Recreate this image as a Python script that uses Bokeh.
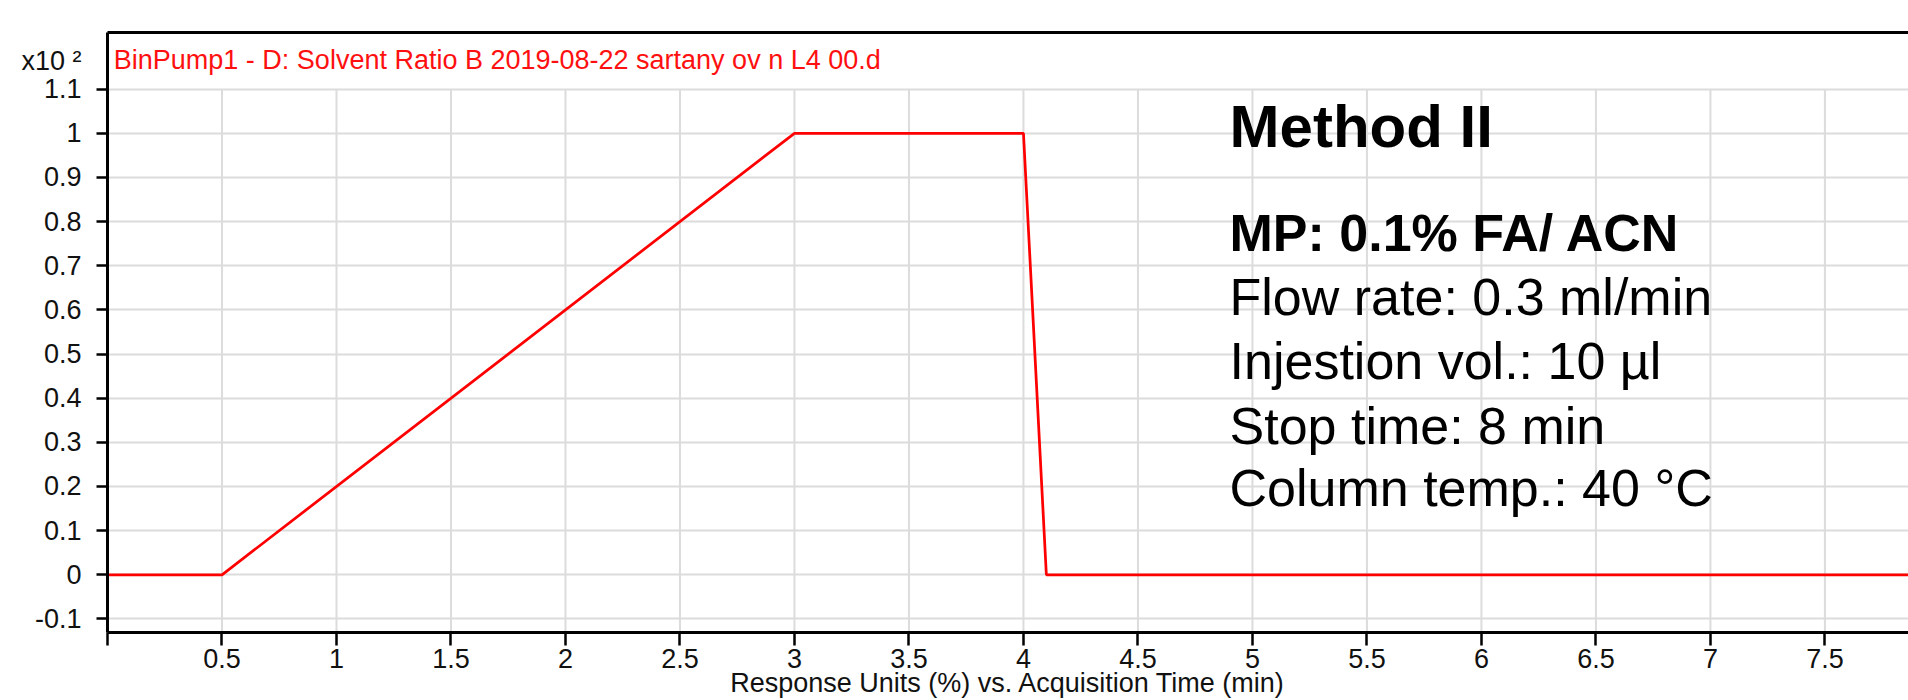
from bokeh.plotting import figure
from bokeh.models import Range1d, FixedTicker, Label, LinearAxis
from bokeh.embed import file_html
from bokeh.resources import INLINE

# ---- data (solvent B ratio, in units of x10^2 %) ----
time_min = [0.0, 0.5, 3.0, 4.0, 4.1, 8.0]
solvent_b = [0.0, 0.0, 1.0, 1.0, 0.0, 0.0]

x_ticks = [0.0, 0.5, 1.0, 1.5, 2.0, 2.5, 3.0, 3.5, 4.0, 4.5, 5.0, 5.5, 6.0, 6.5, 7.0, 7.5]
x_tick_labels = ["", "0.5", "1", "1.5", "2", "2.5", "3", "3.5", "4", "4.5", "5", "5.5", "6", "6.5", "7", "7.5"]
y_ticks = [-0.1, 0.0, 0.1, 0.2, 0.3, 0.4, 0.5, 0.6, 0.7, 0.8, 0.9, 1.0, 1.1]
y_tick_labels = ["-0.1", "0", "0.1", "0.2", "0.3", "0.4", "0.5", "0.6", "0.7", "0.8", "0.9", "1", "1.1"]

trace_title = "BinPump1 - D: Solvent Ratio B 2019-08-22  sartany ov n L4 00.d"
x_axis_title = "Response Units (%) vs. Acquisition Time (min)"
y_scale_text = "x10 \u00b2"
y_scale_pos = 1.164
method_title = "Method II"
method_bold = "MP: 0.1% FA/ ACN"
method_lines = ["Flow rate: 0.3 ml/min", "Injestion vol.: 10 \u00b5l", "Stop time: 8 min", "Column temp.: 40 \u00b0C"]

FONT = "Liberation Sans"

p = figure(width=1908, height=700,
           x_range=Range1d(0, 7.865), y_range=Range1d(-0.1307, 1.2283),
           output_backend="svg", toolbar_location=None,
           min_border_left=107, min_border_top=32, min_border_bottom=68, min_border_right=0)
p.outline_line_color = None
p.background_fill_color = "white"
p.border_fill_color = "white"

# common axis styling
for ax in (p.xaxis[0], p.yaxis[0]):
    ax.axis_line_width = 3
    ax.axis_line_color = "black"
    ax.major_tick_in = 0
    ax.minor_tick_in = 0
    ax.major_tick_line_width = 2.5
    ax.major_tick_line_color = "black"
    ax.major_label_text_font = FONT
    ax.major_label_text_font_size = "27px"
    ax.major_label_text_color = "#111111"

# x axis
p.xaxis.ticker = FixedTicker(ticks=x_ticks)
p.xaxis.major_label_overrides = {t: l for t, l in zip(x_ticks, x_tick_labels)}
p.xaxis.minor_tick_line_color = None
p.xaxis.major_tick_out = 13
p.xaxis.major_label_standoff = 3
p.xaxis.axis_label = x_axis_title
p.xaxis.axis_label_text_font = FONT
p.xaxis.axis_label_text_font_size = "27px"
p.xaxis.axis_label_text_font_style = "normal"
p.xaxis.axis_label_text_color = "#111111"
p.xaxis.axis_label_standoff = -3

# y axis: value ticks drawn as tick marks, plus the "x10 2" scale note as an unmarked label
y_major = y_ticks + [y_scale_pos]
y_labels = {t: l for t, l in zip(y_ticks, y_tick_labels)}
y_labels[y_scale_pos] = y_scale_text
p.yaxis.ticker = FixedTicker(ticks=y_major, minor_ticks=y_ticks)
p.yaxis.major_label_overrides = y_labels
p.yaxis.major_tick_out = 0
p.yaxis.major_tick_line_color = None
p.yaxis.minor_tick_out = 11
p.yaxis.minor_tick_line_width = 2.5
p.yaxis.minor_tick_line_color = "black"
p.yaxis.major_label_standoff = 15

# top border
top_axis = LinearAxis(ticker=FixedTicker(ticks=[]), major_tick_out=0, major_tick_in=0,
                      minor_tick_out=0, minor_tick_in=0, major_label_text_font_size="0px",
                      major_label_standoff=0, axis_line_width=3, axis_line_color="black")
p.add_layout(top_axis, "above")

# grid
p.xgrid.visible = False
p.ygrid.ticker = FixedTicker(ticks=y_ticks)
p.ygrid.grid_line_color = "#dcdcdc"
p.ygrid.grid_line_width = 2

gx = x_ticks[1:]
p.segment(x0=gx, y0=[p.y_range.start] * len(gx), x1=gx, y1=[max(y_ticks)] * len(gx),
          line_color="#dcdcdc", line_width=2)

# data trace
p.line(time_min, solvent_b, line_color="#ff0000", line_width=2.75)

# texts inside the plot area
p.add_layout(Label(x=0.0275, y=1.166, text=trace_title, text_color="#ff1010",
                   text_font=FONT, text_font_size="27px", text_baseline="alphabetic"))

tx = 4.90
p.add_layout(Label(x=tx, y=1.0156, text=method_title, text_color="black",
                   text_font=FONT, text_font_size="60px", text_font_style="bold",
                   text_baseline="alphabetic"))
p.add_layout(Label(x=tx, y=0.775, text=method_bold, text_color="black",
                   text_font=FONT, text_font_size="52px", text_font_style="bold",
                   text_baseline="alphabetic"))
for txt, yy in zip(method_lines, [0.630, 0.485, 0.338, 0.196]):
    p.add_layout(Label(x=tx, y=yy, text=txt, text_color="black",
                       text_font=FONT, text_font_size="52px",
                       text_baseline="alphabetic"))

open("out.html", "w").write(file_html(p, INLINE))
